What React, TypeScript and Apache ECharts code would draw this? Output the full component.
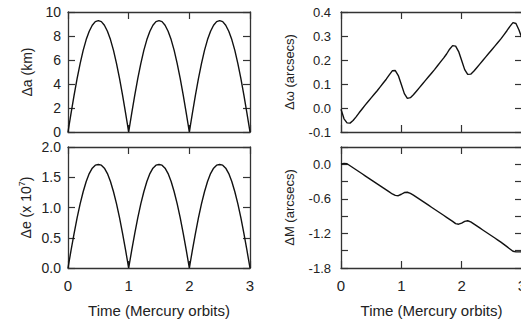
import React, { useEffect, useRef } from 'react';
import * as echarts from 'echarts';

// Time in Mercury orbits
const TIME = [
  0, 0.05, 0.1, 0.15, 0.2, 0.25, 0.3, 0.35, 0.4, 0.45, 0.5,
  0.55, 0.6, 0.65, 0.7, 0.75, 0.8, 0.85, 0.9, 0.95, 1.0,
  1.05, 1.1, 1.15, 1.2, 1.25, 1.3, 1.35, 1.4, 1.45, 1.5,
  1.55, 1.6, 1.65, 1.7, 1.75, 1.8, 1.85, 1.9, 1.95, 2.0,
  2.05, 2.1, 2.15, 2.2, 2.25, 2.3, 2.35, 2.4, 2.45, 2.5,
  2.55, 2.6, 2.65, 2.7, 2.75, 2.8, 2.85, 2.9, 2.95, 3.0,
];

// Δa (km)
const DELTA_A = [
  0, 1.55, 3.05, 4.45, 5.7, 6.8, 7.7, 8.4, 8.9, 9.2, 9.28,
  9.2, 8.9, 8.4, 7.7, 6.8, 5.7, 4.45, 3.05, 1.55, 0,
  1.55, 3.05, 4.45, 5.7, 6.8, 7.7, 8.4, 8.9, 9.2, 9.28,
  9.2, 8.9, 8.4, 7.7, 6.8, 5.7, 4.45, 3.05, 1.55, 0,
  1.55, 3.05, 4.45, 5.7, 6.8, 7.7, 8.4, 8.9, 9.2, 9.28,
  9.2, 8.9, 8.4, 7.7, 6.8, 5.7, 4.45, 3.05, 1.55, 0,
];

// Δe (x 10^7)
const DELTA_E = [
  0, 0.29, 0.57, 0.83, 1.06, 1.26, 1.43, 1.56, 1.65, 1.7, 1.71,
  1.7, 1.65, 1.56, 1.43, 1.26, 1.06, 0.83, 0.57, 0.29, 0,
  0.29, 0.57, 0.83, 1.06, 1.26, 1.43, 1.56, 1.65, 1.7, 1.71,
  1.7, 1.65, 1.56, 1.43, 1.26, 1.06, 0.83, 0.57, 0.29, 0,
  0.29, 0.57, 0.83, 1.06, 1.26, 1.43, 1.56, 1.65, 1.7, 1.71,
  1.7, 1.65, 1.56, 1.43, 1.26, 1.06, 0.83, 0.57, 0.29, 0,
];

// Δω (arcsecs)
const DELTA_OMEGA = [
  -0.005, -0.045, -0.062, -0.063, -0.052, -0.037, -0.02, -0.004, 0.012, 0.027, 0.042,
  0.057, 0.072, 0.088, 0.104, 0.12, 0.138, 0.155, 0.156, 0.135, 0.098,
  0.06, 0.04, 0.043, 0.055, 0.07, 0.085, 0.1, 0.115, 0.13, 0.145,
  0.16, 0.176, 0.192, 0.208, 0.225, 0.245, 0.26, 0.258, 0.235, 0.198,
  0.16, 0.14, 0.141, 0.153, 0.168, 0.183, 0.198, 0.213, 0.228, 0.243,
  0.258, 0.273, 0.288, 0.305, 0.322, 0.34, 0.356, 0.352, 0.325, 0.29,
];

// ΔM (arcsecs)
const DELTA_M = [
  0, 0.015, 0.01, -0.025, -0.06, -0.095, -0.13, -0.165, -0.2, -0.235, -0.27,
  -0.305, -0.34, -0.375, -0.41, -0.445, -0.48, -0.515, -0.54, -0.545, -0.52,
  -0.49, -0.485, -0.505, -0.535, -0.57, -0.605, -0.64, -0.675, -0.71, -0.745,
  -0.78, -0.815, -0.85, -0.885, -0.92, -0.955, -0.99, -1.03, -1.04, -1.02,
  -0.99, -0.98, -1.0, -1.035, -1.07, -1.105, -1.14, -1.175, -1.21, -1.245,
  -1.28, -1.315, -1.35, -1.39, -1.43, -1.47, -1.51, -1.52, -1.52, -1.52,
];

const X_TICKS = [0, 1, 2, 3];
const X_NAME = 'Time (Mercury orbits)';

const FONT = '"Liberation Sans", Arial, Helvetica, sans-serif';
const TEXT = '#222';
const AXIS = '#333';

type Panel = {
  left: number; top: number; width: number; height: number;
  data: number[];
  yMin: number; yMax: number; yInterval: number; labelStep: number; decimals: number;
  name: string; nameGap: number; labelSize: number; labelMargin: number; showX: boolean;
};

const PANELS: Panel[] = [
  { left: 68, top: 12, width: 182, height: 120, data: DELTA_A, yMin: 0, yMax: 10, yInterval: 2, labelStep: 1, decimals: 0,
    name: 'Δa (km)', nameGap: 34, labelSize: 14, labelMargin: 7, showX: false },
  { left: 68, top: 147, width: 182, height: 121, data: DELTA_E, yMin: 0, yMax: 2, yInterval: 0.5, labelStep: 1, decimals: 1,
    name: 'Δe (x 10{sup|7})', nameGap: 34, labelSize: 14, labelMargin: 7, showX: true },
  { left: 341, top: 12, width: 181, height: 120, data: DELTA_OMEGA, yMin: -0.1, yMax: 0.4, yInterval: 0.1, labelStep: 1, decimals: 1,
    name: 'Δω (arcsecs)', nameGap: 45, labelSize: 13, labelMargin: 10, showX: false },
  { left: 341, top: 147, width: 181, height: 121, data: DELTA_M, yMin: -1.8, yMax: 0.3, yInterval: 0.3, labelStep: 2, decimals: 1,
    name: 'ΔM (arcsecs)', nameGap: 45, labelSize: 13, labelMargin: 10, showX: true },
];

function buildOption() {
  const grid: any[] = [];
  const xAxis: any[] = [];
  const yAxis: any[] = [];
  const series: any[] = [];
  const line = { show: true, onZero: false, lineStyle: { color: AXIS, width: 1.3 } };
  const tick = { show: true, inside: true, length: 7, lineStyle: { color: AXIS, width: 1.2 } };

  PANELS.forEach((p, g) => {
    grid.push({ left: p.left, top: p.top, width: p.width, height: p.height, containLabel: false });
    const xBase = {
      type: 'value', gridIndex: g, min: X_TICKS[0], max: X_TICKS[X_TICKS.length - 1], interval: 1,
      axisLine: line, axisTick: tick, splitLine: { show: false },
    };
    xAxis.push({
      ...xBase, position: 'bottom',
      axisLabel: { show: p.showX, margin: 10, fontSize: 15, fontFamily: FONT, color: TEXT },
      name: p.showX ? X_NAME : '', nameLocation: 'middle', nameGap: 35,
      nameTextStyle: { fontSize: 15, fontFamily: FONT, color: TEXT },
    });
    xAxis.push({ ...xBase, position: 'top', axisLabel: { show: false } });

    const yBase = {
      type: 'value', gridIndex: g, min: p.yMin, max: p.yMax, interval: p.yInterval,
      axisLine: line, axisTick: tick, splitLine: { show: false },
    };
    yAxis.push({
      ...yBase, position: 'left',
      axisLabel: {
        show: true, margin: p.labelMargin, fontSize: p.labelSize, fontFamily: FONT, color: TEXT,
        formatter: (v: number) => {
          const k = Math.round((v - p.yMin) / p.yInterval);
          if (k % p.labelStep !== 0) return '';
          return (Math.abs(v) < 1e-9 ? 0 : v).toFixed(p.decimals);
        },
      },
      name: p.name, nameLocation: 'middle', nameGap: p.nameGap, nameRotate: 90,
      nameTextStyle: {
        fontSize: p.labelSize, fontFamily: FONT, color: TEXT,
        rich: { sup: { fontSize: 9, fontFamily: FONT, color: TEXT, padding: [0, 0, 8, 0] } },
      },
    });
    yAxis.push({ ...yBase, position: 'right', axisLabel: { show: false } });

    series.push({
      type: 'line', xAxisIndex: 2 * g, yAxisIndex: 2 * g, showSymbol: false, symbol: 'none',
      lineStyle: { color: '#111', width: 1.4 },
      data: TIME.map((t, i) => [t, p.data[i]]),
    });
  });

  return { animation: false, backgroundColor: '#fff', grid, xAxis, yAxis, series };
}

export default function App() {
  const ref = useRef<HTMLDivElement>(null);
  useEffect(() => {
    const chart = echarts.init(ref.current!, null, { renderer: 'svg' });
    chart.setOption(buildOption() as any);
    return () => chart.dispose();
  }, []);
  return (
    <div
      ref={ref}
      style={{ position: 'fixed', left: 0, top: 0, width: 540, height: 320, background: '#fff' }}
    />
  );
}
